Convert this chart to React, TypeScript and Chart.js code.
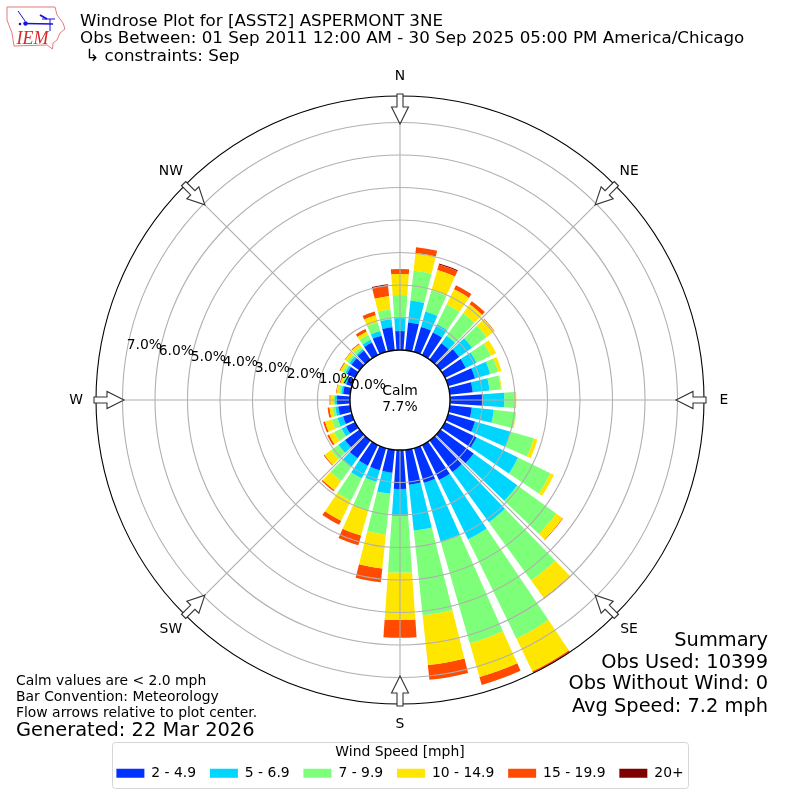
import React, { useEffect, useRef } from "react";
import { Chart, PolarAreaController, registerables } from "chart.js";

Chart.register(...registerables);

const directions = [0, 10, 20, 30, 40, 50, 60, 70, 80, 90, 100, 110, 120, 130, 140, 150, 160, 170, 180, 190, 200, 210, 220, 230, 240, 250, 260, 270, 280, 290, 300, 310, 320, 330, 340, 350];
const speed2to5 = [0.58, 0.86, 0.80, 0.77, 0.62, 0.71, 0.71, 0.86, 0.71, 1.02, 0.68, 0.86, 1.08, 1.26, 1.20, 1.20, 1.11, 1.08, 1.20, 0.71, 0.71, 0.71, 0.68, 0.55, 0.31, 0.28, 0.37, 0.40, 0.22, 0.18, 0.28, 0.31, 0.34, 0.43, 0.52, 0.71];
const speed5to7 = [0.40, 0.68, 0.49, 0.28, 0.28, 0.49, 0.37, 0.49, 0.52, 0.65, 0.68, 1.14, 1.42, 1.66, 1.91, 2.03, 1.88, 1.42, 0.83, 0.65, 0.37, 0.43, 0.31, 0.25, 0.15, 0.18, 0.09, 0.06, 0.06, 0.06, 0.06, 0.08, 0.06, 0.09, 0.15, 0.25];
const speed7to10 = [0.71, 0.92, 0.68, 0.68, 0.86, 0.55, 0.49, 0.25, 0.35, 0.31, 0.68, 0.74, 1.11, 1.48, 2.22, 3.40, 3.26, 2.62, 1.74, 1.26, 0.92, 0.77, 0.55, 0.28, 0.25, 0.18, 0.09, 0.06, 0.06, 0.06, 0.08, 0.08, 0.09, 0.17, 0.28, 0.30];
const speed10to15 = [0.65, 0.55, 0.65, 0.52, 0.34, 0.29, 0.18, 0.11, 0.03, 0.06, 0.02, 0.12, 0.12, 0.24, 0.65, 1.12, 1.08, 1.54, 1.46, 1.05, 0.80, 0.68, 0.34, 0.25, 0.18, 0.22, 0.09, 0.08, 0.08, 0.06, 0.08, 0.08, 0.09, 0.11, 0.22, 0.41];
const speed15to20 = [0.15, 0.18, 0.18, 0.14, 0.12, 0.02, 0, 0, 0, 0, 0, 0, 0, 0.02, 0.03, 0.06, 0.25, 0.46, 0.55, 0.43, 0.31, 0.14, 0.05, 0.03, 0.06, 0.06, 0.06, 0.03, 0.02, 0.03, 0.03, 0.02, 0.03, 0.09, 0.12, 0.34];
const speed20plus = [0, 0, 0.03, 0, 0, 0, 0, 0, 0, 0, 0, 0, 0, 0, 0, 0, 0, 0, 0, 0, 0, 0, 0, 0, 0, 0, 0, 0, 0, 0, 0, 0, 0, 0, 0, 0.03];

const speedLabels = ["2 - 4.9", "5 - 6.9", "7 - 9.9", "10 - 14.9", "15 - 19.9", "20+"];
const speedColors = ["#0033ff", "#00d5ff", "#7dff7a", "#ffe600", "#ff4a00", "#800000"];
const speedSeries = [speed2to5, speed5to7, speed7to10, speed10to15, speed15to20, speed20plus];
const compass = ["N", "NE", "E", "SE", "S", "SW", "W", "NW"];
const ringValues = [0, 1, 2, 3, 4, 5, 6, 7];

const titleLines = [
  "Windrose Plot for [ASST2] ASPERMONT 3NE",
  "Obs Between: 01 Sep 2011 12:00 AM - 30 Sep 2025 05:00 PM America/Chicago",
  " \u21B3 constraints: Sep",
];
const noteLines = ["Calm values are < 2.0 mph", "Bar Convention: Meteorology", "Flow arrows relative to plot center."];
const generatedLine = "Generated: 22 Mar 2026";
const summaryLines = ["Summary", "Obs Used: 10399", "Obs Without Wind: 0", "Avg Speed: 7.2 mph"];
const calmLines = ["Calm", "7.7%"];

const FONT = '"DejaVu Sans"';
const BAR_DEGREES = 8;
const R_MIN = -1.54;
const R_MAX = 7.815;

class WindroseController extends PolarAreaController {
  static id = "windrose";
  updateElements(arcs: any[], start: number, count: number, mode: any) {
    const chart = this.chart as any;
    const scale = chart.scales.r;
    const datasets = chart.data.datasets;
    const half = ((BAR_DEGREES / 2) * Math.PI) / 180;
    for (let i = start; i < start + count; i++) {
      let base = 0;
      for (let d = 0; d < (this as any).index; d++) base += datasets[d].data[i];
      const value = datasets[(this as any).index].data[i];
      const mid = (directions[i] * Math.PI) / 180 - Math.PI / 2;
      const startAngle = mid - half;
      const endAngle = mid + half;
      (this as any).updateElement(
        arcs[i],
        i,
        {
          x: scale.xCenter,
          y: scale.yCenter,
          innerRadius: scale.getDistanceFromCenterForValue(base),
          outerRadius: scale.getDistanceFromCenterForValue(base + value),
          startAngle,
          endAngle,
          circumference: value > 0 ? endAngle - startAngle : 0,
          options: (this as any).resolveDataElementOptions(i, mode),
        },
        mode
      );
    }
  }
}
Chart.register(WindroseController as any);

function drawLogo(ctx: CanvasRenderingContext2D) {
  ctx.save();
  ctx.strokeStyle = "#e87a7a";
  ctx.lineWidth = 1;
  ctx.beginPath();
  const outline = [[7, 7], [55, 7], [57, 15], [63, 23], [65, 29], [60, 33], [57, 40], [53, 43], [52.5, 49], [47, 45], [14, 46], [12, 33], [7, 20]];
  outline.forEach(([x, y], i) => (i ? ctx.lineTo(x, y) : ctx.moveTo(x, y)));
  ctx.closePath();
  ctx.stroke();
  ctx.strokeStyle = "#1414d2";
  ctx.fillStyle = "#1414d2";
  ctx.lineWidth = 1.6;
  ctx.beginPath();
  ctx.moveTo(25, 23.5);
  ctx.lineTo(53, 24);
  ctx.stroke();
  ctx.beginPath();
  ctx.arc(25.5, 23.5, 2.2, 0, Math.PI * 2);
  ctx.fill();
  ctx.lineWidth = 1;
  ctx.beginPath();
  ctx.moveTo(18, 11);
  ctx.lineTo(25, 21);
  ctx.moveTo(42, 19);
  ctx.lineTo(55, 19);
  ctx.moveTo(50, 19);
  ctx.lineTo(50, 31);
  ctx.stroke();
  ctx.lineWidth = 2;
  ctx.beginPath();
  ctx.moveTo(40, 15);
  ctx.lineTo(47, 19);
  ctx.stroke();
  ctx.beginPath();
  ctx.arc(20, 24, 1.3, 0, Math.PI * 2);
  ctx.fill();
  ctx.fillStyle = "#d92a2a";
  ctx.font = 'italic 18px "Liberation Serif"';
  ctx.textAlign = "left";
  ctx.textBaseline = "alphabetic";
  ctx.fillText("IEM", 16.5, 44);
  ctx.restore();
}

const overlayPlugin = {
  id: "windroseOverlay",
  beforeDraw(chart: any) {
    const ctx = chart.ctx;
    ctx.save();
    ctx.fillStyle = "#ffffff";
    ctx.fillRect(0, 0, 800, 800);
    ctx.strokeStyle = "#d6d6d6";
    ctx.lineWidth = 1;
    ctx.beginPath();
    ctx.roundRect(112.5, 742.5, 576, 46, 3);
    ctx.stroke();
    ctx.restore();
  },
  afterDraw(chart: any) {
    const ctx: CanvasRenderingContext2D = chart.ctx;
    const r = chart.scales.r;
    const cx = r.xCenter;
    const cy = r.yCenter;
    ctx.save();

    // calm circle
    const calmRadius = r.getDistanceFromCenterForValue(0);
    ctx.beginPath();
    ctx.arc(cx, cy, calmRadius, 0, Math.PI * 2);
    ctx.fillStyle = "#ffffff";
    ctx.fill();
    ctx.strokeStyle = "#000000";
    ctx.lineWidth = 1.4;
    ctx.stroke();

    // inward flow arrows
    const tail = r.getDistanceFromCenterForValue(R_MAX) + 2;
    compass.forEach((_, i) => {
      const p = r.getPointPosition(i, tail);
      ctx.save();
      ctx.translate(p.x, p.y);
      ctx.rotate(r.getIndexAngle(i));
      ctx.beginPath();
      ctx.moveTo(-3, 0);
      ctx.lineTo(3, 0);
      ctx.lineTo(3, 13);
      ctx.lineTo(8.5, 13);
      ctx.lineTo(0, 30);
      ctx.lineTo(-8.5, 13);
      ctx.lineTo(-3, 13);
      ctx.closePath();
      ctx.fillStyle = "#ffffff";
      ctx.fill();
      ctx.strokeStyle = "#333333";
      ctx.lineWidth = 1.1;
      ctx.stroke();
      ctx.restore();
    });

    ctx.fillStyle = "#000000";

    // compass labels
    ctx.font = `13.9px ${FONT}`;
    ctx.textAlign = "center";
    ctx.textBaseline = "middle";
    compass.forEach((label, i) => {
      const p = r.getPointPosition(i, 324);
      ctx.fillText(label, p.x, p.y);
    });

    // ring labels
    ctx.textAlign = "left";
    ctx.textBaseline = "bottom";
    const labelAngle = (10 * Math.PI) / 180;
    ringValues.forEach((v) => {
      const d = r.getDistanceFromCenterForValue(v);
      ctx.fillText(`${v.toFixed(1)}%`, cx - d * Math.cos(labelAngle), cy - d * Math.sin(labelAngle) + 1);
    });

    // calm text
    ctx.textAlign = "center";
    ctx.textBaseline = "middle";
    ctx.fillText(calmLines[0], cx, 391.5);
    ctx.fillText(calmLines[1], cx, 407.5);

    // titles
    ctx.textAlign = "left";
    ctx.textBaseline = "alphabetic";
    ctx.font = `16.7px ${FONT}`;
    [26, 42.5, 61].forEach((y, i) => ctx.fillText(titleLines[i], 80, y));

    // notes
    ctx.font = `13.9px ${FONT}`;
    [685, 701, 717].forEach((y, i) => ctx.fillText(noteLines[i], 16, y));
    ctx.font = `19.4px ${FONT}`;
    ctx.fillText(generatedLine, 16, 736);

    // summary
    ctx.textAlign = "right";
    ctx.font = `19.4px ${FONT}`;
    [646, 668, 689, 712].forEach((y, i) => ctx.fillText(summaryLines[i], 768, y));
    ctx.restore();

    drawLogo(ctx);
  },
};

export default function App() {
  const canvasRef = useRef<HTMLCanvasElement | null>(null);
  useEffect(() => {
    if (!canvasRef.current) return;
    const chart = new Chart(canvasRef.current, {
      type: "windrose" as any,
      data: {
        labels: directions.map((d) => String(d)),
        datasets: speedLabels.map((label, i) => ({
          label,
          data: speedSeries[i],
          backgroundColor: speedColors[i],
          borderWidth: 0,
        })),
      },
      plugins: [overlayPlugin],
      options: {
        responsive: false,
        animation: false,
        layout: { padding: { top: 96, left: 0, right: 0, bottom: 9.7 } },
        scales: {
          r: {
            type: "radialLinear",
            min: R_MIN,
            max: R_MAX,
            labels: compass,
            ticks: { display: false, stepSize: 1 },
            pointLabels: { display: false },
            angleLines: { display: true, color: "#b0b0b0", lineWidth: 1.1 },
            grid: {
              z: 1,
              circular: true,
              lineWidth: 1.1,
              color: (c: any) => {
                const v = c.tick ? c.tick.value : 0;
                if (v === R_MAX) return "#000000";
                return v >= 0 && Number.isInteger(v) ? "#b0b0b0" : "rgba(0,0,0,0)";
              },
            },
          },
        },
        plugins: {
          tooltip: { enabled: false },
          legend: {
            display: true,
            position: "bottom",
            title: {
              display: true,
              text: "Wind Speed [mph]",
              color: "#000000",
              font: { family: FONT, size: 13.9 },
              padding: { top: 40, bottom: -10 },
            },
            labels: {
              boxWidth: 28,
              boxHeight: 9,
              padding: 13.8,
              color: "#000000",
              font: { family: FONT, size: 13.9 },
              generateLabels: (c: any) =>
                c.data.datasets.map((ds: any, i: number) => ({
                  text: ds.label,
                  fillStyle: ds.backgroundColor,
                  strokeStyle: "rgba(0,0,0,0)",
                  lineWidth: 0,
                  datasetIndex: i,
                  hidden: false,
                })),
            },
          },
        },
      } as any,
    });
    return () => chart.destroy();
  }, []);
  return (
    <canvas
      ref={canvasRef}
      width={800}
      height={800}
      style={{ position: "fixed", left: 0, top: 0, width: 800, height: 800 }}
    />
  );
}
